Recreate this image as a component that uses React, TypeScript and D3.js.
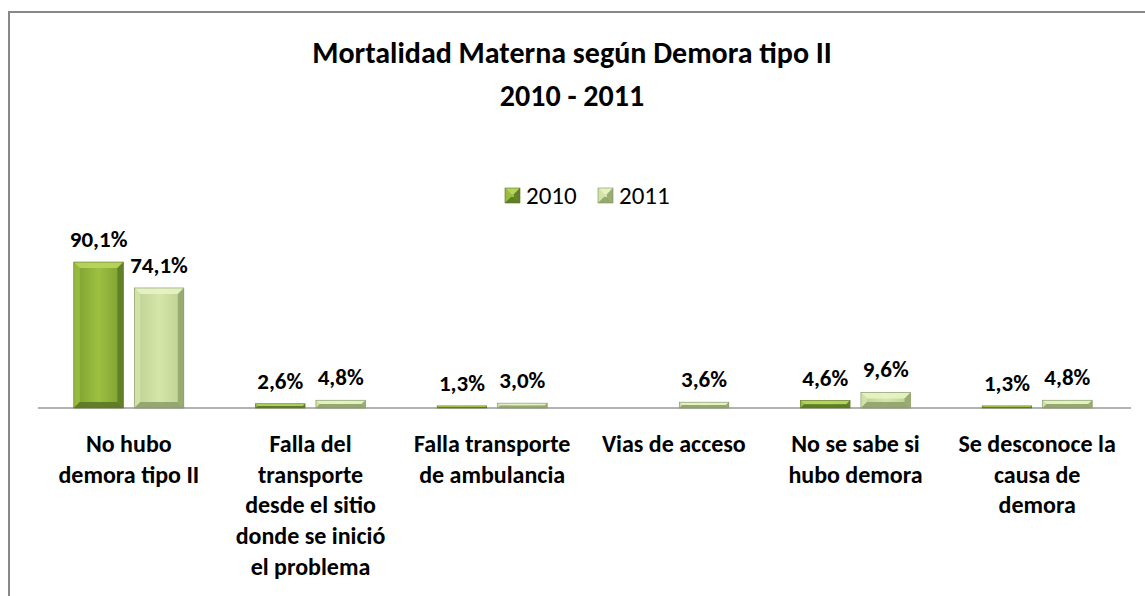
import React from "react";
import * as d3 from "d3";

const categories: string[][] = [
  ["No hubo", "demora tipo II"],
  ["Falla del", "transporte", "desde el sitio", "donde se inició", "el problema"],
  ["Falla transporte", "de ambulancia"],
  ["Vias de acceso"],
  ["No se sabe si", "hubo demora"],
  ["Se desconoce la", "causa de", "demora"],
];
const series2010: (number | null)[] = [90.1, 2.6, 1.3, null, 4.6, 1.3];
const series2011: (number | null)[] = [74.1, 4.8, 3.0, 3.6, 9.6, 4.8];
const seriesNames = ["2010", "2011"];

const W = 1145;
const H = 596;
const FONT = "Carlito, Calibri, Lato, 'Open Sans', sans-serif";

const colors = [
  { light: "#9cc040", mid: "#7c9e32", dark: "#5a7824", top: "#b9d65e", stroke: "#5a7424" },
  { light: "#d6e6aa", mid: "#bccf90", dark: "#8ea26a", top: "#e8f3c6", stroke: "#7f9160" },
];

function Bar({ x, y, w, h, s }: { x: number; y: number; w: number; h: number; s: number }) {
  const c = colors[s];
  const b = Math.min(6, h / 2, w / 2);
  return (
    <g>
      <rect x={x} y={y} width={w} height={h} fill={`url(#grad${s})`} />
      <polygon points={`${x},${y} ${x + w},${y} ${x + w - b},${y + b} ${x + b},${y + b}`} fill={c.top} opacity={0.9} />
      <polygon points={`${x},${y} ${x + b},${y + b} ${x + b},${y + h - b} ${x},${y + h}`} fill={c.light} opacity={0.8} />
      <polygon points={`${x + w},${y} ${x + w - b},${y + b} ${x + w - b},${y + h - b} ${x + w},${y + h}`} fill={c.dark} opacity={0.8} />
      <polygon points={`${x},${y + h} ${x + b},${y + h - b} ${x + w - b},${y + h - b} ${x + w},${y + h}`} fill={c.dark} opacity={0.9} />
      <rect x={x} y={y} width={w} height={h} fill="none" stroke={c.stroke} strokeWidth={0.6} />
    </g>
  );
}

export default function App() {
  const x0 = d3
    .scaleBand<number>()
    .domain(d3.range(categories.length))
    .range([38, 1128])
    .paddingInner(0)
    .paddingOuter(0);
  const groupW = 110;
  const x1 = d3.scaleBand<number>().domain([0, 1]).range([0, groupW]).paddingInner(0.18);
  const y = d3.scaleLinear().domain([0, 100]).range([408, 246]);
  const all = [series2010, series2011];
  const legendX = [505, 598];

  return (
    <div style={{ position: "absolute", left: 0, top: 0 }}>
      <svg width={W} height={H} style={{ display: "block" }}>
        <defs>
          {colors.map((c, i) => (
            <linearGradient key={i} id={`grad${i}`} x1="0" x2="1" y1="0" y2="0">
              <stop offset="0" stopColor={c.mid} />
              <stop offset="0.5" stopColor={c.light} />
              <stop offset="1" stopColor={c.mid} />
            </linearGradient>
          ))}
        </defs>
        <rect x={0} y={0} width={W} height={H} fill="#fff" />
        <rect x={9} y={12} width={W + 20} height={H + 20} fill="none" stroke="#888" strokeWidth={2} />
        <text x={572} y={63} textAnchor="middle" fontFamily={FONT} fontWeight="bold" fontSize={30} fill="#000">
          Mortalidad Materna según Demora tipo II
        </text>
        <text x={572} y={106} textAnchor="middle" fontFamily={FONT} fontWeight="bold" fontSize={30} fill="#000">
          2010 - 2011
        </text>
        {seriesNames.map((n, i) => {
          const lx = legendX[i];
          return (
            <g key={n}>
              <Bar x={lx} y={188} w={15} h={15} s={i} />
              <text x={lx + 21} y={204} fontFamily={FONT} fontSize={25} fill="#000">
                {n}
              </text>
            </g>
          );
        })}
        <line x1={38} x2={1131} y1={408} y2={408} stroke="#999" strokeWidth={1.5} />
        {categories.map((cat, ci) => {
          const gx = (x0(ci) as number) + (x0.bandwidth() - groupW) / 2;
          return (
            <g key={ci}>
              {all.map((ser, si) => {
                const v = ser[ci];
                if (v == null) return null;
                const bx = gx + (x1(si) as number);
                const bw = x1.bandwidth();
                const by = y(v);
                return (
                  <g key={si}>
                    <Bar x={bx} y={by} w={bw} h={y(0) - by} s={si} />
                    <text
                      x={bx + bw / 2}
                      y={by - 15}
                      textAnchor="middle"
                      fontFamily={FONT}
                      fontWeight="bold"
                      fontSize={23}
                      fill="#000"
                    >
                      {v.toFixed(1).replace(".", ",")}%
                    </text>
                  </g>
                );
              })}
              <text textAnchor="middle" fontFamily={FONT} fontWeight="bold" fontSize={24} fill="#000">
                {cat.map((line, li) => (
                  <tspan key={li} x={(x0(ci) as number) + x0.bandwidth() / 2} y={452 + li * 30.7}>
                    {line}
                  </tspan>
                ))}
              </text>
            </g>
          );
        })}
      </svg>
    </div>
  );
}
